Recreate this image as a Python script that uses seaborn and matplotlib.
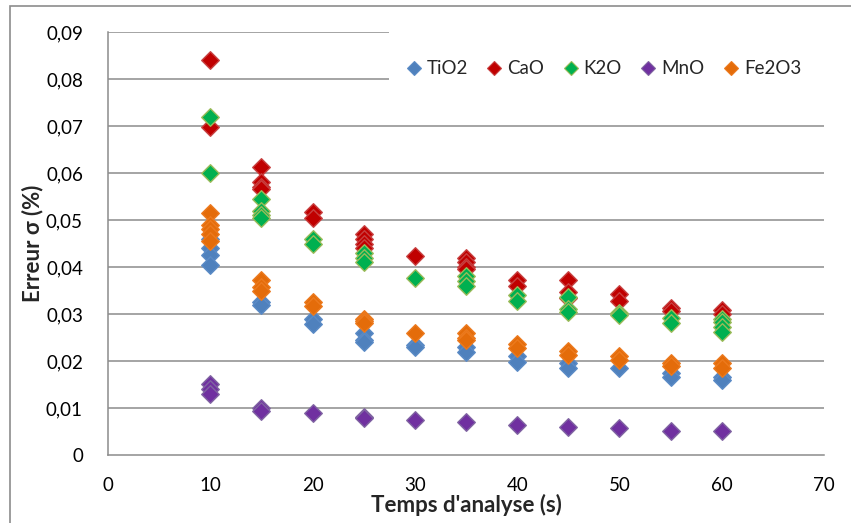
import matplotlib
matplotlib.use("Agg")
import matplotlib.pyplot as plt
import seaborn as sns
import pandas as pd
from matplotlib.patches import Rectangle
from matplotlib.lines import Line2D
from matplotlib.ticker import FuncFormatter

# ---- data ----
compounds = ["TiO2", "CaO", "K2O", "MnO", "Fe2O3"]

tio2_t = [10, 10, 10, 10, 15, 15, 20, 20, 25, 25, 25, 30, 30, 35, 35, 40, 40, 45, 45, 50, 55, 55, 60, 60]
tio2_v = [0.046, 0.044, 0.0425, 0.0405, 0.0325, 0.032, 0.029, 0.0278, 0.026, 0.0245, 0.024,
          0.0235, 0.023, 0.023, 0.022, 0.021, 0.0197, 0.0195, 0.0185, 0.0185, 0.0175, 0.0167, 0.0167, 0.016]

cao_t = [10, 10, 15, 15, 15, 15, 20, 20, 25, 25, 25, 25, 30, 35, 35, 35, 35, 40, 40, 45, 45, 45,
         50, 50, 55, 55, 60, 60]
cao_v = [0.084, 0.0698, 0.0613, 0.058, 0.057, 0.0565, 0.0518, 0.0505, 0.047, 0.046, 0.045, 0.044,
         0.0423, 0.042, 0.041, 0.040, 0.0395, 0.0372, 0.036, 0.0372, 0.0347, 0.0335,
         0.0342, 0.0327, 0.0313, 0.0307, 0.0308, 0.030]

k2o_t = [10, 10, 15, 15, 15, 15, 20, 20, 25, 25, 25, 30, 35, 35, 35, 40, 40, 45, 45, 45,
         50, 50, 55, 55, 60, 60, 60, 60]
k2o_v = [0.072, 0.060, 0.0545, 0.052, 0.051, 0.0505, 0.046, 0.045, 0.043, 0.042, 0.041,
         0.0377, 0.038, 0.037, 0.036, 0.034, 0.0328, 0.0337, 0.031, 0.0305,
         0.0303, 0.0298, 0.0292, 0.028, 0.029, 0.0283, 0.0273, 0.0262]

mno_t = [10, 10, 10, 15, 15, 20, 25, 25, 30, 35, 40, 45, 50, 55, 60]
mno_v = [0.0152, 0.014, 0.0129, 0.0101, 0.0093, 0.0089, 0.0081, 0.0078, 0.0074, 0.0070,
         0.0063, 0.0060, 0.0057, 0.0052, 0.0052]

fe2o3_t = [10, 10, 10, 10, 10, 15, 15, 15, 20, 20, 25, 25, 25, 30, 35, 35, 35, 40, 40,
           45, 45, 50, 50, 55, 55, 60, 60]
fe2o3_v = [0.0515, 0.049, 0.048, 0.047, 0.0455, 0.0372, 0.0358, 0.0348, 0.0325, 0.0318,
           0.029, 0.0285, 0.028, 0.026, 0.026, 0.025, 0.0245, 0.0237, 0.0228,
           0.0222, 0.0213, 0.021, 0.0203, 0.0195, 0.019, 0.0196, 0.0185]

x_ticks = [0, 10, 20, 30, 40, 50, 60, 70]
y_ticks = [0, 0.01, 0.02, 0.03, 0.04, 0.05, 0.06, 0.07, 0.08, 0.09]

series = {
    "TiO2": (tio2_t, tio2_v),
    "CaO": (cao_t, cao_v),
    "K2O": (k2o_t, k2o_v),
    "MnO": (mno_t, mno_v),
    "Fe2O3": (fe2o3_t, fe2o3_v),
}
fills = {"TiO2": "#4F81BD", "CaO": "#C00000", "K2O": "#00B050", "MnO": "#7030A0", "Fe2O3": "#E46C0A"}
edges = {"TiO2": "#5B8BC6", "CaO": "#C84040", "K2O": "#9BBB59", "MnO": "#8064A2", "Fe2O3": "#EC7A1E"}

rows = []
for name in compounds:
    t, v = series[name]
    for a, b in zip(t, v):
        rows.append({"compound": name, "t": a, "err": b})
df = pd.DataFrame(rows)

# ---- figure ----
sns.set_theme(style="white")
plt.rcParams["font.family"] = ["Lato", "DejaVu Sans"]

fig = plt.figure(figsize=(8.51, 5.23), dpi=100)
ax = fig.add_axes([108 / 851, 1 - 455 / 523, (824 - 108) / 851, (455 - 32) / 523])

grid_c = "#8C8C8C"
for y in y_ticks[1:]:
    ax.axhline(y, color=grid_c, lw=1.1, zorder=0)

# white legend background covering top gridlines
ax.add_patch(Rectangle(((389 - 108) / 716, (455 - 100) / 423), 0.7, 0.3,
                       transform=ax.transAxes, facecolor="white", edgecolor="none",
                       zorder=1, clip_on=False))

for name in compounds:
    sub = df[df["compound"] == name]
    sns.scatterplot(data=sub, x="t", y="err", ax=ax, marker="D", s=80,
                    color=fills[name], edgecolor=edges[name], linewidth=1.0,
                    zorder=3, legend=False)

ax.set_xlim(0, 70)
ax.set_ylim(0, 0.09)
ax.set_xticks(x_ticks)
ax.set_yticks(y_ticks)
ax.yaxis.set_major_formatter(FuncFormatter(lambda v, p: "0" if v == 0 else f"{v:.2f}".replace(".", ",")))
ax.xaxis.set_major_formatter(FuncFormatter(lambda v, p: f"{int(v)}"))

for s in ["top", "right"]:
    ax.spines[s].set_visible(False)
for s in ["left", "bottom"]:
    ax.spines[s].set_color(grid_c)
    ax.spines[s].set_linewidth(1.1)

ax.tick_params(axis="both", which="major", direction="out", length=6, width=1.1,
               color=grid_c, labelsize=13.5, labelcolor="#000000")
ax.tick_params(axis="y", pad=12)
ax.tick_params(axis="x", pad=10)
ax.set_xlabel("Temps d'analyse (s)", fontsize=16, fontweight="bold")
ax.set_ylabel("Erreur σ (%)", fontsize=16, fontweight="bold")
ax.xaxis.label.set_va("center")
ax.yaxis.label.set_va("center")
ax.xaxis.set_label_coords(0.5, (455 - 505) / 423)
ax.yaxis.set_label_coords((33 - 108) / 716, 0.5)

handles = [Line2D([], [], marker="D", linestyle="none", markersize=7,
                  markerfacecolor=fills[n], markeredgecolor=edges[n], markeredgewidth=0.8)
           for n in compounds]
fig.legend(handles, compounds, ncol=5, loc="center left",
           bbox_to_anchor=(406 / 851, 1 - 69 / 523), frameon=False,
           fontsize=13.5, handlelength=0.8, handletextpad=0.3, columnspacing=1.0,
           borderaxespad=0, borderpad=0)

# outer chart border
fig.add_artist(Rectangle((10 / 851, -0.05), 1.2, 1 - 6 / 523 + 0.05,
                         transform=fig.transFigure, facecolor="none",
                         edgecolor="#8C8C8C", lw=1.2))

fig.savefig("out.png", dpi=100)
